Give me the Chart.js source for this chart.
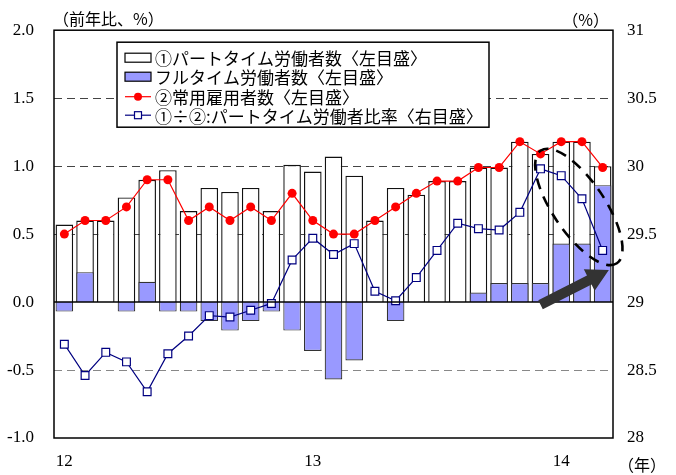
<!DOCTYPE html>
<html lang="ja">
<head>
<meta charset="utf-8">
<title>パートタイム労働者比率の推移</title>
<script src="https://cdn.jsdelivr.net/npm/chart.js@4.4.1/dist/chart.umd.min.js"></script>
<style>
  html, body { margin: 0; padding: 0; background: #fff; }
  #wrap { width: 676px; height: 475px; }
</style>
</head>
<body>
<div id="wrap"><canvas id="chart" width="676" height="475"></canvas></div>
<script>
// 月次（2012年1月〜2014年3月）
const categories = [
    '2012/1', '2012/2', '2012/3', '2012/4', '2012/5', '2012/6', '2012/7', '2012/8', '2012/9', '2012/10', '2012/11', '2012/12',
    '2013/1', '2013/2', '2013/3', '2013/4', '2013/5', '2013/6', '2013/7', '2013/8', '2013/9', '2013/10', '2013/11', '2013/12',
    '2014/1', '2014/2', '2014/3'
];

// ①パートタイム労働者数 前年比（%）
const partTime = [0.57, 0.60, 0.60, 0.77, 0.90, 0.97, 0.67, 0.84, 0.81, 0.84, 0.67, 1.01,
                  0.96, 1.07, 0.93, 0.60, 0.84, 0.79, 0.89, 0.89, 0.99, 0.99, 1.18, 1.09,
                  1.18, 1.18, 1.00];

// フルタイム労働者数 前年比（%）
const fullTime = [-0.07, 0.22, 0.00, -0.07, 0.15, -0.07, -0.07, -0.14, -0.21, -0.14, -0.07, -0.21,
                  -0.36, -0.57, -0.43, 0.00, -0.14, 0.00, 0.00, 0.00, 0.07, 0.14, 0.14, 0.14,
                  0.43, 0.43, 0.86];

// ②常用雇用者数 前年比（%）
const employees = [0.50, 0.60, 0.60, 0.70, 0.90, 0.90, 0.60, 0.70, 0.60, 0.70, 0.60, 0.80,
                   0.60, 0.50, 0.50, 0.60, 0.70, 0.80, 0.89, 0.89, 0.99, 0.99, 1.18, 1.09,
                   1.18, 1.18, 0.99];

// ①÷②：パートタイム労働者比率（%）
const ratio = [28.69, 28.46, 28.63, 28.56, 28.34, 28.62, 28.75, 28.90, 28.89, 28.94, 28.99, 29.31,
               29.47, 29.35, 29.43, 29.08, 29.01, 29.18, 29.38, 29.58, 29.54, 29.53, 29.66, 29.98,
               29.93, 29.76, 29.38];

const leftTicks = { min: -1.0, max: 2.0, step: 0.5 };
const rightTicks = { min: 28, max: 31, step: 0.5 };

const tickFont = { family: "'Liberation Serif', 'Times New Roman', serif", size: 17 };
const jpFont = "'Noto Sans CJK JP', sans-serif";

// 破線の目盛線・外枠・注記・凡例
const framePlugin = {
    id: 'frame',
    beforeDatasetsDraw(chart) {
        const { ctx, chartArea: a, scales: { y } } = chart;
        ctx.save();
        ctx.lineWidth = 1.2;
        ctx.setLineDash([8, 5]);
        [1.5, 1.0, 0.5, -0.5].forEach(v => {
            const py = Math.round(y.getPixelForValue(v)) + 0.5;
            ctx.strokeStyle = v < 0 ? '#888' : '#444';
            ctx.beginPath();
            ctx.moveTo(a.left, py);
            ctx.lineTo(a.right, py);
            ctx.stroke();
        });
        ctx.restore();
    },
    afterDatasetsDraw(chart) {
        const { ctx, chartArea: a, scales: { x, y, y2 } } = chart;
        ctx.save();
        // ゼロ線
        const zy = y.getPixelForValue(0);
        ctx.strokeStyle = '#000';
        ctx.lineWidth = 1.6;
        ctx.beginPath();
        ctx.moveTo(a.left, zy);
        ctx.lineTo(a.right, zy);
        ctx.stroke();
        // 外枠
        ctx.lineWidth = 1.5;
        ctx.strokeRect(a.left, a.top, a.right - a.left, a.bottom - a.top);

        // 直近の比率上昇を囲む楕円
        const cx = x.getPixelForValue(24.85);
        const cy = y2.getPixelForValue(29.70);
        ctx.setLineDash([11, 8]);
        ctx.lineWidth = 2.6;
        ctx.beginPath();
        ctx.ellipse(cx, cy, 68, 26, 56 * Math.PI / 180, 0, Math.PI * 2);
        ctx.stroke();
        ctx.setLineDash([]);

        // 矢印
        const x0 = x.getPixelForValue(23.0), y0 = y2.getPixelForValue(28.98);
        const x1 = x.getPixelForValue(26.3), y1 = y2.getPixelForValue(29.235);
        const ang = Math.atan2(y1 - y0, x1 - x0);
        const len = Math.hypot(x1 - x0, y1 - y0);
        const headLen = 22, headW = 12, shaftW = 5;
        ctx.translate(x0, y0);
        ctx.rotate(ang);
        ctx.fillStyle = '#333';
        ctx.beginPath();
        ctx.moveTo(0, -shaftW);
        ctx.lineTo(len - headLen, -shaftW);
        ctx.lineTo(len - headLen, -headW);
        ctx.lineTo(len, 0);
        ctx.lineTo(len - headLen, headW);
        ctx.lineTo(len - headLen, shaftW);
        ctx.lineTo(0, shaftW);
        ctx.closePath();
        ctx.fill();
        ctx.restore();
    },
    afterDraw(chart) {
        const { ctx, chartArea: a } = chart;
        ctx.save();
        ctx.fillStyle = '#000';
        ctx.textBaseline = 'middle';

        // 単位
        ctx.font = '16px ' + jpFont;
        ctx.textAlign = 'left';
        ctx.fillText('（前年比、%）', a.left - 1, a.top - 11);
        ctx.textAlign = 'right';
        ctx.fillText('（%）', a.right - 4, a.top - 10);
        ctx.textAlign = 'left';
        ctx.fillText('（年）', a.right + 5, chart.height - 10);

        // 凡例
        const bx = a.left + 63, by = a.top + 12, bw = 372, bh = 85;
        ctx.fillStyle = '#fff';
        ctx.fillRect(bx, by, bw, bh);
        ctx.strokeStyle = '#000';
        ctx.lineWidth = 1.5;
        ctx.strokeRect(bx, by, bw, bh);

        const rowY = [15.5, 34.5, 54.5, 73];
        const mx = bx + 8, mw = 26;
        chart.data.datasets.forEach((ds, i) => {
            const cy = by + rowY[i];
            if (ds.type === 'bar') {
                ctx.fillStyle = ds.backgroundColor;
                ctx.fillRect(mx, cy - 4.5, mw, 9);
                ctx.strokeStyle = '#000';
                ctx.lineWidth = 1.2;
                ctx.strokeRect(mx, cy - 4.5, mw, 9);
            } else {
                ctx.strokeStyle = ds.borderColor;
                ctx.lineWidth = 1.2;
                ctx.beginPath();
                ctx.moveTo(mx, cy);
                ctx.lineTo(mx + mw, cy);
                ctx.stroke();
                if (ds.pointStyle === 'rect') {
                    ctx.fillStyle = '#fff';
                    ctx.fillRect(mx + mw / 2 - 3.5, cy - 3.5, 7, 7);
                    ctx.strokeRect(mx + mw / 2 - 3.5, cy - 3.5, 7, 7);
                } else {
                    ctx.fillStyle = ds.pointBackgroundColor;
                    ctx.beginPath();
                    ctx.arc(mx + mw / 2, cy, 4, 0, Math.PI * 2);
                    ctx.fill();
                }
            }
            ctx.fillStyle = '#000';
            ctx.font = '17px ' + jpFont;
            ctx.textAlign = 'left';
            ctx.fillText(ds.label, mx + mw + 4, cy + 1);
        });
        ctx.restore();
    }
};

const ctx = document.getElementById('chart').getContext('2d');
new Chart(ctx, {
    data: {
        labels: categories,
        datasets: [
            {
                type: 'bar',
                label: '①パートタイム労働者数〈左目盛〉',
                data: partTime,
                yAxisID: 'y',
                backgroundColor: '#ffffff',
                borderColor: '#111',
                borderWidth: 1.4,
                grouped: false,
                barPercentage: 0.85,
                categoryPercentage: 1.0,
                order: 4
            },
            {
                type: 'bar',
                label: 'フルタイム労働者数〈左目盛〉',
                data: fullTime,
                yAxisID: 'y',
                backgroundColor: '#9999ff',
                borderColor: '#333',
                borderWidth: 1.2,
                grouped: false,
                barPercentage: 0.85,
                categoryPercentage: 1.0,
                order: 3
            },
            {
                type: 'line',
                label: '②常用雇用者数〈左目盛〉',
                data: employees,
                yAxisID: 'y',
                borderColor: '#ff0000',
                borderWidth: 1.2,
                pointRadius: 4.5,
                pointBackgroundColor: '#ff0000',
                pointBorderWidth: 0,
                tension: 0,
                order: 2
            },
            {
                type: 'line',
                label: '①÷②:パートタイム労働者比率〈右目盛〉',
                data: ratio,
                yAxisID: 'y2',
                borderColor: '#000080',
                borderWidth: 1.2,
                pointStyle: 'rect',
                pointRadius: 5.5,
                pointBackgroundColor: '#ffffff',
                pointBorderColor: '#000080',
                pointBorderWidth: 1.2,
                tension: 0,
                order: 1
            }
        ]
    },
    options: {
        responsive: false,
        animation: false,
        events: [],
        layout: { padding: { top: 30, left: 0, right: 0, bottom: 0 } },
        plugins: {
            legend: { display: false },
            tooltip: { enabled: false }
        },
        scales: {
            x: {
                type: 'category',
                offset: true,
                grid: { display: false, drawTicks: false },
                border: { display: false },
                ticks: {
                    autoSkip: false,
                    maxRotation: 0,
                    padding: 13,
                    color: '#000',
                    font: tickFont,
                    callback: (v, i) => categories[i].endsWith('/1') ? categories[i].slice(2, 4) : ''
                },
                afterFit: s => { s.height = 37; }
            },
            y: {
                position: 'left',
                min: leftTicks.min,
                max: leftTicks.max,
                grid: { display: false, drawTicks: false },
                border: { display: false },
                ticks: {
                    stepSize: leftTicks.step,
                    padding: 20,
                    color: '#000',
                    font: tickFont,
                    callback: v => Number(v).toFixed(1)
                },
                afterFit: s => { s.width = 54; }
            },
            y2: {
                position: 'right',
                min: rightTicks.min,
                max: rightTicks.max,
                grid: { display: false, drawTicks: false },
                border: { display: false },
                ticks: {
                    stepSize: rightTicks.step,
                    padding: 14,
                    color: '#000',
                    font: tickFont,
                    callback: v => String(v)
                },
                afterFit: s => { s.width = 63; }
            }
        }
    },
    plugins: [framePlugin]
});
</script>
</body>
</html>
